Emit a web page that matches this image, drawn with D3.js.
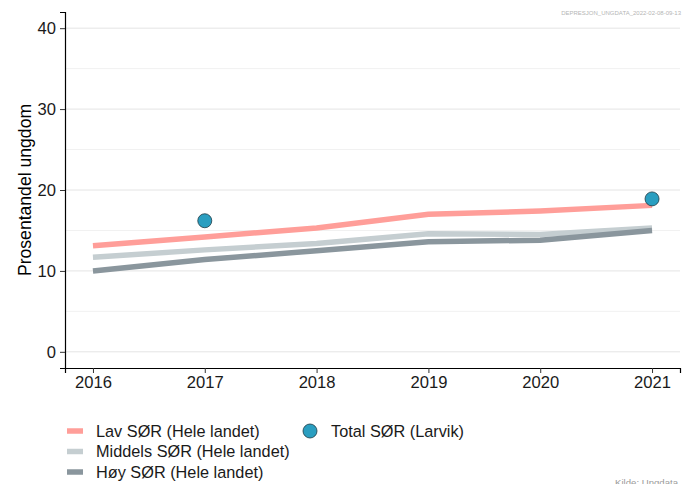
<!DOCTYPE html>
<html>
<head>
<meta charset="utf-8">
<script src="https://cdn.jsdelivr.net/npm/d3@7"></script>
<style>
  body { margin: 0; background: #fff; }
  svg { display: block; font-family: "Liberation Sans", Arial, sans-serif; }
</style>
</head>
<body>
<svg id="chart" width="688" height="484"></svg>
<script>
// Data

const years = [2016, 2017, 2018, 2019, 2020, 2021];
const lav = [13.1, 14.2, 15.3, 17.0, 17.4, 18.1];
const middels = [11.7, 12.6, 13.4, 14.6, 14.5, 15.3];
const hoy = [10.0, 11.4, 12.5, 13.6, 13.8, 15.0];
const totalYears = [2017, 2021];
const totalLarvik = [16.2, 18.9];
const yTicks = [0, 10, 20, 30, 40];
const yMinor = [5, 15, 25, 35];

const seriesNames = ["Lav SØR (Hele landet)", "Middels SØR (Hele landet)", "Høy SØR (Hele landet)"];
const pointName = "Total SØR (Larvik)";

// Colours

const colors = ["#FF9E99", "#C5CED1", "#8A969D"];
const pointColor = "#2A9EC0";

// Frame

const margin = { top: 12, right: 8, bottom: 116, left: 65 };
const width = 688;
const height = 484;

const svg = d3.select("#chart");

const x = d3.scaleLinear()
  .domain([2016 - 0.25, 2021 + 0.25])
  .range([margin.left, width - margin.right]);

const y = d3.scaleLinear()
  .domain([-2, 42])
  .range([height - margin.bottom, margin.top]);

// Grid lines

svg.append("g").selectAll("line.minor")
  .data(yMinor)
  .enter()
  .append("line")
  .attr("x1", margin.left)
  .attr("x2", width - margin.right)
  .attr("y1", (d) => y(d))
  .attr("y2", (d) => y(d))
  .attr("stroke", "#f1f1f1")
  .attr("stroke-width", 1);

svg.append("g").selectAll("line.major")
  .data(yTicks)
  .enter()
  .append("line")
  .attr("x1", margin.left)
  .attr("x2", width - margin.right)
  .attr("y1", (d) => y(d))
  .attr("y2", (d) => y(d))
  .attr("stroke", "#e4e4e4")
  .attr("stroke-width", 1);

// Lines

const line = d3.line()
  .x((d, i) => x(years[i]))
  .y((d) => y(d));

[lav, middels, hoy].forEach(function (values, i) {
  svg.append("path")
    .datum(values)
    .attr("fill", "none")
    .attr("stroke", colors[i])
    .attr("stroke-width", 5.5)
    .attr("d", line);
});

// Points

svg.append("g").selectAll("circle")
  .data(totalLarvik)
  .enter()
  .append("circle")
  .attr("cx", (d, i) => x(totalYears[i]))
  .attr("cy", (d) => y(d))
  .attr("r", 7)
  .attr("fill", pointColor)
  .attr("stroke", "#1d3a44")
  .attr("stroke-width", 0.8);

// Axes

const xAxis = svg.append("g")
  .attr("transform", "translate(0," + (height - margin.bottom) + ")")
  .call(d3.axisBottom(x).tickValues(years).tickFormat(d3.format("d")).tickSizeOuter(0).tickSize(5).tickPadding(3));

const yAxis = svg.append("g")
  .attr("transform", "translate(" + margin.left + ",0)")
  .call(d3.axisLeft(y).tickValues(yTicks).tickSizeOuter(0).tickSize(5).tickPadding(4));

[xAxis, yAxis].forEach(function (ax) {
  ax.select(".domain").attr("stroke", "#000").attr("stroke-width", 1.2);
  ax.selectAll(".tick line").attr("stroke", "#333");
  ax.selectAll(".tick text")
    .attr("fill", "#1a1a1a")
    .style("font-size", "16.6px")
    .style("font-family", "'Liberation Sans', Arial, sans-serif");
});

// Y axis title

svg.append("text")
  .attr("transform", "translate(31," + y(20) + ") rotate(-90)")
  .attr("text-anchor", "middle")
  .style("font-size", "17.6px")
  .attr("fill", "#000")
  .text("Prosentandel ungdom");

// Legend

const legend = svg.append("g");

legend.selectAll("line")
  .data(seriesNames)
  .enter()
  .append("line")
  .attr("x1", 67)
  .attr("x2", 83)
  .attr("y1", (d, i) => 431 + i * 20.5)
  .attr("y2", (d, i) => 431 + i * 20.5)
  .attr("stroke", (d, i) => colors[i])
  .attr("stroke-width", 5.5);

legend.selectAll("text.series")
  .data(seriesNames)
  .enter()
  .append("text")
  .attr("x", 96)
  .attr("y", (d, i) => 431 + i * 20.5)
  .attr("dy", "0.36em")
  .style("font-size", "16.3px")
  .attr("fill", "#1a1a1a")
  .text((d) => d);

legend.append("circle")
  .attr("cx", 310)
  .attr("cy", 431)
  .attr("r", 7)
  .attr("fill", pointColor)
  .attr("stroke", "#1d3a44")
  .attr("stroke-width", 0.8);

legend.append("text")
  .attr("x", 331)
  .attr("y", 431)
  .attr("dy", "0.36em")
  .style("font-size", "16.3px")
  .attr("fill", "#1a1a1a")
  .text(pointName);

// Captions

svg.append("text")
  .attr("x", 681)
  .attr("y", 15)
  .attr("text-anchor", "end")
  .style("font-size", "6px")
  .attr("fill", "#b5b5b5")
  .text("DEPRESJON_UNGDATA_2022-02-08-09-13");

svg.append("text")
  .attr("x", 678)
  .attr("y", 486)
  .attr("text-anchor", "end")
  .style("font-size", "9.6px")
  .attr("fill", "#9a9a9a")
  .text("Kilde: Ungdata");
</script>
</body>
</html>
